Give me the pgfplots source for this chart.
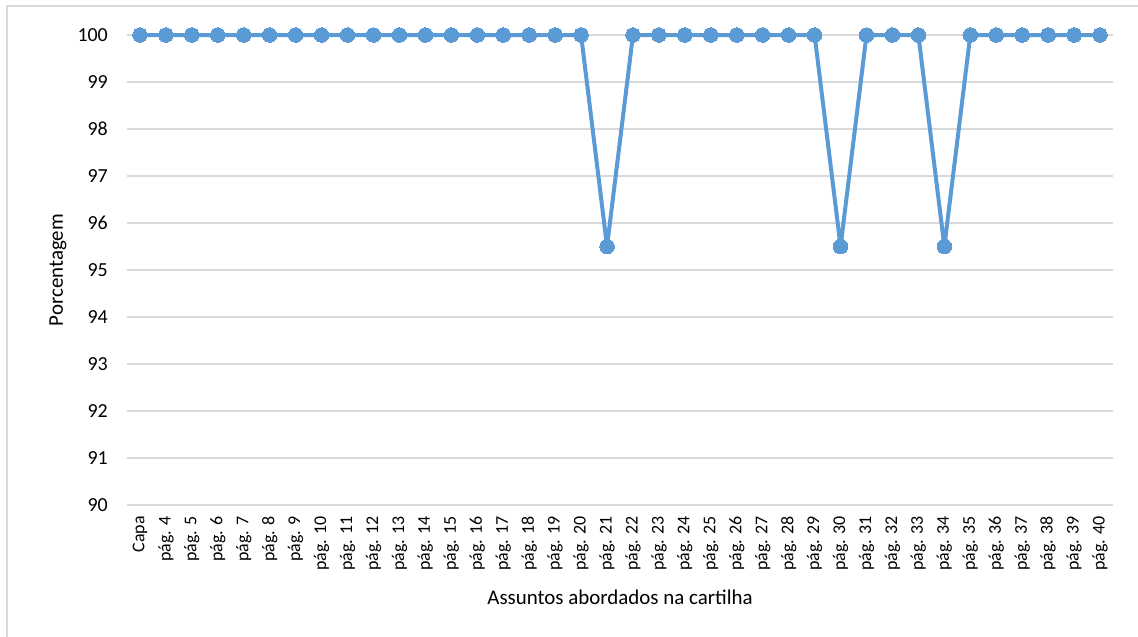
\documentclass[border=0pt]{standalone}
\usepackage{fontspec}
\setmainfont{Carlito}
\usepackage{pgfplots}
\pgfplotsset{compat=1.18}

\definecolor{serie}{HTML}{5B9BD5}
\definecolor{grade}{HTML}{D9D9D9}
\definecolor{moldura}{HTML}{D9D9D9}

\begin{document}
\begin{tikzpicture}
\useasboundingbox (0,0) rectangle (1138bp,-637bp);
\draw[moldura, line width=1.5bp] (7bp,-6bp) rectangle (1160bp,-660bp);
\begin{axis}[
    at={(127bp,-505bp)}, anchor=south west,
    scale only axis,
    width=986bp, height=470bp,
    xmin=-0.5, xmax=37.5,
    ymin=90, ymax=100,
    ytick={90,91,...,100},
    xtick=data,
    xticklabels={Capa,pág. 4,pág. 5,pág. 6,pág. 7,pág. 8,pág. 9,pág. 10,pág. 11,pág. 12,pág. 13,pág. 14,pág. 15,pág. 16,pág. 17,pág. 18,pág. 19,pág. 20,pág. 21,pág. 22,pág. 23,pág. 24,pág. 25,pág. 26,pág. 27,pág. 28,pág. 29,pág. 30,pág. 31,pág. 32,pág. 33,pág. 34,pág. 35,pág. 36,pág. 37,pág. 38,pág. 39,pág. 40},
    major tick length=0pt,
    axis line style={draw=none},
    ymajorgrids=true,
    grid style={grade, line width=1.2bp},
    /pgf/number format/assume math mode=true,
    yticklabel style={font=\fontsize{20}{24}\selectfont, inner sep=0pt},
    yticklabel shift=19bp,
    xticklabel style={font=\fontsize{18}{22}\selectfont, inner sep=0pt, rotate=90, anchor=east},
    xticklabel shift=11bp,
    clip=false,
]
\addplot[color=serie, line width=4bp, line join=round, mark=*, mark size=7.3bp,
    mark options={fill=serie, draw=serie, line width=0pt}]
    coordinates {
    (0,100)(1,100)(2,100)(3,100)(4,100)(5,100)(6,100)(7,100)(8,100)(9,100)
    (10,100)(11,100)(12,100)(13,100)(14,100)(15,100)(16,100)(17,100)(18,95.5)(19,100)
    (20,100)(21,100)(22,100)(23,100)(24,100)(25,100)(26,100)(27,95.5)(28,100)(29,100)
    (30,100)(31,95.5)(32,100)(33,100)(34,100)(35,100)(36,100)(37,100)
    };
\end{axis}
\node[rotate=90, font=\fontsize{21}{25}\selectfont] at (58bp,-270bp) {Porcentagem};
\node[font=\fontsize{21}{25}\selectfont] at (620bp,-597bp) {Assuntos abordados na cartilha};
\end{tikzpicture}
\end{document}
